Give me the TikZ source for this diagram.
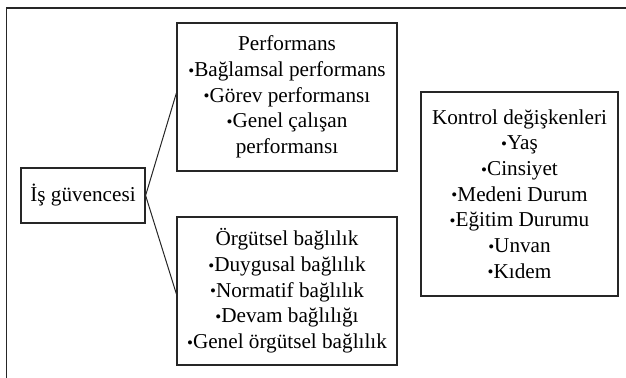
\documentclass[tikz,border=0pt]{standalone}
\usepackage{fontspec}
\setmainfont{Liberation Serif}
\usetikzlibrary{positioning}
\tikzset{box/.style={draw=black!85,line width=.6pt,align=center,inner sep=0pt,
  font=\fontsize{10.6}{12.85}\selectfont}}
\tikzset{link/.style={draw=black!85,line width=.5pt}}
\newcommand*{\bul}{\raisebox{.02em}{\scalebox{.8}{•}}}

\begin{document}
\begin{tikzpicture}[x=.5pt,y=-.5pt]
\useasboundingbox (0,0) rectangle (626,378);
% frame (top and left only)
\draw[line width=.6pt,black!85] (626,8) -- (6.7,8) -- (6.7,378);
\node[box,minimum width=62pt,minimum height=27.5pt] (is) at (83,195.5) {İş güvencesi};
\node[box,minimum width=110pt,minimum height=74pt] (perf) at (287,97)
  {Performans\\\bul Bağlamsal performans\\\bul Görev performansı\\\bul Genel çalışan\\performansı};
\node[box,minimum width=110pt,minimum height=74pt] (org) at (287,291)
  {Örgütsel bağlılık\\\bul Duygusal bağlılık\\\bul Normatif bağlılık\\\bul Devam bağlılığı\\\bul Genel örgütsel bağlılık};
\node[box,minimum width=98.5pt,minimum height=102pt] (kontrol) at (519.5,194)
  {Kontrol değişkenleri\\\bul Yaş\\\bul Cinsiyet\\\bul Medeni Durum\\\bul Eğitim Durumu\\\bul Unvan\\\bul Kıdem};
\draw[link] (is.east) -- ([yshift=2pt]perf.west);
\draw[link] (is.east) -- ([yshift=-1.5pt]org.west);
\end{tikzpicture}
\end{document}
